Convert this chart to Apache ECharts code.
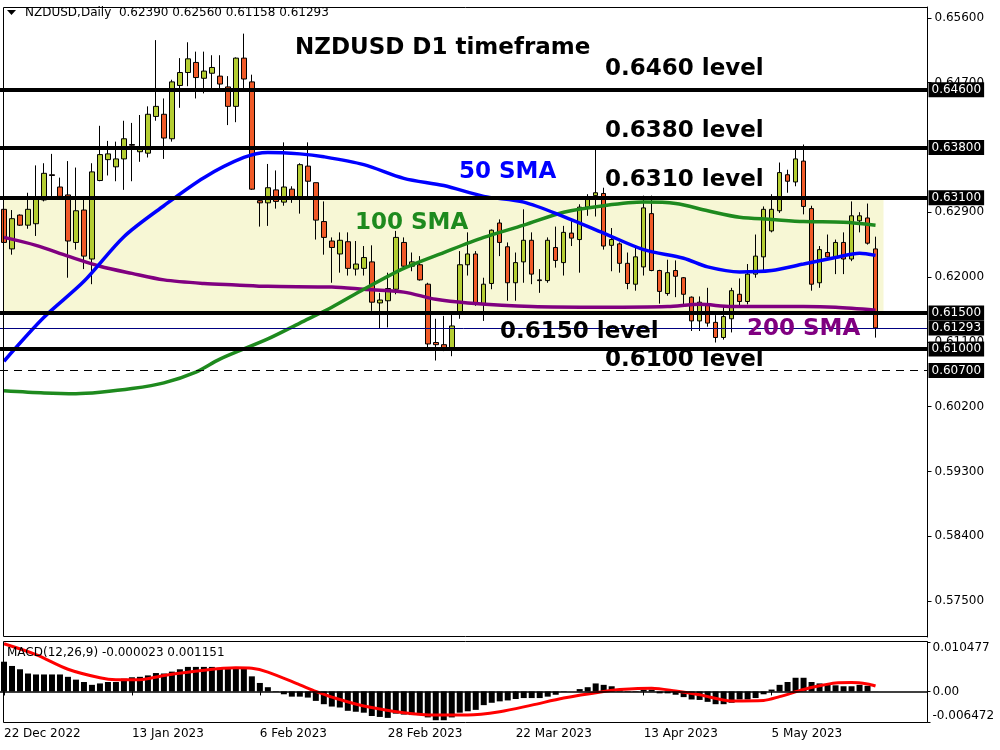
<!DOCTYPE html>
<html>
<head>
<meta charset="utf-8">
<title>NZDUSD D1 timeframe</title>
<script src="https://cdn.jsdelivr.net/npm/echarts@6.0.0/dist/echarts.min.js"></script>
<style>
  html, body { margin: 0; padding: 0; background: #fff; }
  #chart { width: 1000px; height: 750px; }
</style>
</head>
<body>
<div id="chart"></div>
<script>
// daily candles, each [open, close, low, high]
const ohlc = [
  [0.6294,0.6248,0.6229,0.6328],[0.6239,0.6281,0.6231,0.6293],[0.6286,0.6272,0.6271,0.6287],[0.6272,0.6294,0.6267,0.6317],
  [0.6274,0.6308,0.6257,0.6355],[0.6307,0.6344,0.6305,0.6358],[0.6342,0.6341,0.6312,0.6371],[0.6325,0.6312,0.6310,0.6338],
  [0.6314,0.6250,0.6199,0.6361],[0.6248,0.6292,0.6238,0.6352],[0.6293,0.6229,0.6211,0.6312],[0.6225,0.6346,0.6190,0.6358],
  [0.6334,0.6370,0.6333,0.6410],[0.6363,0.6371,0.6341,0.6389],[0.6353,0.6364,0.6333,0.6388],[0.6364,0.6392,0.6321,0.6417],
  [0.6384,0.6383,0.6333,0.6414],[0.6374,0.6379,0.6360,0.6425],[0.6372,0.6426,0.6366,0.6437],[0.6423,0.6437,0.6417,0.6529],
  [0.6426,0.6393,0.6364,0.6448],[0.6392,0.6471,0.6388,0.6474],[0.6466,0.6484,0.6435,0.6504],[0.6484,0.6503,0.6465,0.6526],
  [0.6498,0.6477,0.6448,0.6513],[0.6476,0.6486,0.6455,0.6513],[0.6483,0.6491,0.6462,0.6508],[0.6479,0.6468,0.6462,0.6508],
  [0.6464,0.6437,0.6411,0.6479],[0.6437,0.6504,0.6415,0.6505],[0.6504,0.6475,0.6458,0.6538],[0.6471,0.6322,0.6321,0.6481],
  [0.6306,0.6303,0.6270,0.6312],[0.6303,0.6324,0.6271,0.6357],[0.6321,0.6305,0.6295,0.6348],[0.6304,0.6325,0.6299,0.6387],
  [0.6322,0.6310,0.6303,0.6326],[0.6308,0.6356,0.6288,0.6358],[0.6354,0.6333,0.6308,0.6387],[0.6331,0.6279,0.6252,0.6331],
  [0.6277,0.6255,0.6231,0.6305],[0.6250,0.6241,0.6192,0.6255],[0.6232,0.6251,0.6206,0.6262],[0.6249,0.6212,0.6202,0.6262],
  [0.6211,0.6218,0.6202,0.6250],[0.6212,0.6227,0.6202,0.6243],[0.6221,0.6165,0.6153,0.6244],[0.6164,0.6168,0.6129,0.6178],
  [0.6167,0.6184,0.6130,0.6206],[0.6183,0.6255,0.6176,0.6264],[0.6248,0.6215,0.6211,0.6255],[0.6215,0.6221,0.6208,0.6234],
  [0.6217,0.6196,0.6195,0.6229],[0.6190,0.6107,0.6102,0.6192],[0.6109,0.6106,0.6084,0.6142],[0.6106,0.6102,0.6097,0.6146],
  [0.6102,0.6132,0.6090,0.6151],[0.6152,0.6217,0.6142,0.6236],[0.6217,0.6232,0.6202,0.6262],[0.6232,0.6163,0.6160,0.6236],
  [0.6163,0.6190,0.6139,0.6199],[0.6191,0.6265,0.6183,0.6266],[0.6275,0.6248,0.6229,0.6280],[0.6242,0.6192,0.6167,0.6248],
  [0.6192,0.6220,0.6167,0.6234],[0.6221,0.6251,0.6192,0.6294],[0.6251,0.6204,0.6190,0.6262],[0.6196,0.6195,0.6178,0.6211],
  [0.6195,0.6251,0.6192,0.6255],[0.6241,0.6223,0.6213,0.6270],[0.6220,0.6262,0.6202,0.6271],[0.6261,0.6254,0.6243,0.6280],
  [0.6252,0.6297,0.6206,0.6301],[0.6297,0.6309,0.6285,0.6315],[0.6313,0.6317,0.6284,0.6378],[0.6316,0.6243,0.6238,0.6324],
  [0.6244,0.6252,0.6208,0.6268],[0.6246,0.6219,0.6206,0.6248],[0.6219,0.6191,0.6183,0.6234],[0.6190,0.6228,0.6181,0.6241],
  [0.6214,0.6296,0.6202,0.6313],[0.6288,0.6209,0.6208,0.6313],[0.6209,0.6180,0.6163,0.6210],[0.6177,0.6206,0.6174,0.6224],
  [0.6209,0.6201,0.6172,0.6223],[0.6199,0.6176,0.6160,0.6200],[0.6172,0.6139,0.6125,0.6173],[0.6139,0.6165,0.6125,0.6173],
  [0.6163,0.6136,0.6131,0.6185],[0.6137,0.6116,0.6109,0.6147],[0.6116,0.6145,0.6113,0.6160],[0.6142,0.6181,0.6123,0.6185],
  [0.6176,0.6166,0.6160,0.6198],[0.6166,0.6204,0.6162,0.6218],[0.6204,0.6229,0.6199,0.6259],[0.6228,0.6294,0.6208,0.6298],
  [0.6264,0.6294,0.6262,0.6315],[0.6292,0.6345,0.6289,0.6359],[0.6342,0.6333,0.6317,0.6349],[0.6332,0.6364,0.6326,0.6377],
  [0.6361,0.6298,0.6287,0.6384],[0.6295,0.6190,0.6181,0.6299],[0.6192,0.6238,0.6185,0.6243],[0.6234,0.6228,0.6227,0.6259],
  [0.6228,0.6248,0.6204,0.6252],[0.6248,0.6225,0.6204,0.6262],[0.6225,0.6285,0.6222,0.6305],[0.6278,0.6285,0.6262,0.6290],
  [0.6282,0.6247,0.6245,0.6302],[0.62390,0.61293,0.61158,0.62560]
];

// moving averages, [bar index, value]
const sma50 = [[0,0.6083],[5,0.6144],[10,0.6194],[15,0.6256],[20,0.6299],[25,0.6338],[30,0.6366],[33,0.6373],[37,0.6371],
  [40,0.6367],[45,0.6356],[50,0.6337],[55,0.6327],[60,0.6312],[65,0.6304],[70,0.6284],[75,0.6261],[80,0.6238],[85,0.6226],
  [88,0.6214],[92,0.6207],[96,0.6209],[100,0.6218],[104,0.6227],[107,0.6233],[109,0.6230]];
const sma100 = [[0,0.6042],[5,0.6039],[9,0.6038],[12,0.6040],[16,0.6045],[20,0.6053],[24,0.6068],[27,0.6086],[33,0.6114],
  [37,0.6136],[41,0.6158],[45,0.6183],[50,0.6212],[55,0.6234],[60,0.6255],[65,0.6272],[70,0.6290],[75,0.6299],[80,0.6304],
  [84,0.6302],[88,0.6292],[92,0.6283],[96,0.6280],[100,0.6277],[105,0.6276],[109,0.6272]];
const sma200 = [[0,0.6255],[4,0.6244],[8,0.6229],[12,0.6215],[16,0.6205],[20,0.6196],[25,0.6191],[29,0.6189],[33,0.6187],
  [41,0.6186],[45,0.6183],[50,0.6179],[54,0.6169],[58,0.6164],[66,0.6159],[75,0.6158],[83,0.6159],[87,0.6162],[91,0.6159],
  [100,0.6159],[104,0.6158],[109,0.6154]];

// MACD(12,26,9): main as histogram, signal as line
const macdMain = [
  0.0063,0.0054,0.0047,0.0038,0.0036,0.0036,0.0036,0.0036,0.0031,0.0025,0.0020,0.0014,0.0017,0.0020,0.0020,0.0027,
  0.0030,0.0031,0.0034,0.0039,0.0038,0.0042,0.0047,0.0052,0.0052,0.0052,0.0052,0.0050,0.0048,0.0050,0.0050,0.0032,
  0.0018,0.0009,0.0001,-0.0006,-0.0011,-0.0011,-0.0013,-0.0020,-0.0027,-0.0032,-0.0034,-0.0041,-0.0043,-0.0045,-0.0052,-0.0054,
  -0.0056,-0.0047,-0.0049,-0.0050,-0.0050,-0.0055,-0.0061,-0.0061,-0.0055,-0.0045,-0.0042,-0.0039,-0.0029,-0.0024,-0.0021,-0.0019,
  -0.0016,-0.0014,-0.0014,-0.0014,-0.0011,-0.0007,-0.0001,0.0000,0.0005,0.0009,0.0017,0.0014,0.0011,0.0005,0.0001,0.0001,
  0.0004,0.0004,-0.0004,-0.0004,-0.0007,-0.0012,-0.0017,-0.0018,-0.0022,-0.0027,-0.0027,-0.0024,-0.0017,-0.0017,-0.0014,-0.0006,
  0.0004,0.0014,0.0020,0.0029,0.0029,0.0020,0.0017,0.0016,0.0013,0.0011,0.0011,0.0014,0.0012,-0.000023
];
const macdSignal = [[0,0.0101],[4,0.0078],[8,0.0047],[12,0.0029],[14,0.0025],[17,0.0025],[20,0.0034],[25,0.0045],[29,0.0050],
  [31,0.0049],[33,0.0041],[37,0.0014],[39,0.0000],[41,-0.0012],[45,-0.0031],[50,-0.0045],[54,-0.0050],[58,-0.0050],[62,-0.0043],
  [66,-0.0029],[70,-0.0014],[75,0.0000],[77,0.0004],[81,0.0007],[84,0.0001],[87,-0.0007],[91,-0.0020],[95,-0.0019],[97,-0.0011],
  [100,0.0004],[102,0.0012],[104,0.0018],[106,0.0019],[108,0.0016],[109,0.001151]];

// horizontal levels and the shaded zone
const levels = [0.6460, 0.6380, 0.6310, 0.6150, 0.6100];
const lastClose = 0.61293;
const dashedLevel = 0.6070;
const zone = [0.6150, 0.6310];
const zoneEnd = 110;

// axis labels
const priceTicks = [0.656, 0.647, 0.629, 0.620, 0.611, 0.602, 0.593, 0.584, 0.575];
const macdTicks = [-0.006472, 0, 0.010477];
const dateTicks = ['22 Dec 2022', '13 Jan 2023', '6 Feb 2023', '28 Feb 2023', '22 Mar 2023', '13 Apr 2023', '5 May 2023'];
const tickStep = 16;
const barSlots = 116;

const cats = Array.from({ length: barSlots }, (_, i) => i);
const FONT = '"DejaVu Sans", sans-serif';
const isDateTick = (i) => i % tickStep === 0 && i / tickStep < dateTicks.length;

const notes = [
  ['NZDUSD D1 timeframe', 295, 48, '#000'],
  ['0.6460 level', 605, 69, '#000'],
  ['0.6380 level', 605, 131, '#000'],
  ['50 SMA', 459, 172, '#0000ff'],
  ['0.6310 level', 605, 180, '#000'],
  ['100 SMA', 355, 223, '#1e8a1e'],
  ['0.6150 level', 500, 332, '#000'],
  ['200 SMA', 747, 329, '#800080'],
  ['0.6100 level', 605, 360, '#000']
];

const chart = echarts.init(document.getElementById('chart'));

const graphic = [
  { type: 'rect', silent: true, z: 100, shape: { x: 3.5, y: 7.5, width: 924, height: 629 }, style: { fill: 'none', stroke: '#000', lineWidth: 1 } },
  { type: 'rect', silent: true, z: 100, shape: { x: 3.5, y: 641.5, width: 924, height: 81 }, style: { fill: 'none', stroke: '#000', lineWidth: 1 } },
  { type: 'polygon', silent: true, z: 100, shape: { points: [[7, 10], [16, 10], [11.5, 15]] }, style: { fill: '#000' } },
  { type: 'text', silent: true, z: 100, x: 25, y: 13, style: { text: 'NZDUSD,Daily  0.62390 0.62560 0.61158 0.61293', font: '12px ' + FONT, fill: '#000', align: 'left', verticalAlign: 'middle', textAlign: 'left', textVerticalAlign: 'middle' } },
  { type: 'text', silent: true, z: 100, x: 7, y: 653, style: { text: 'MACD(12,26,9) -0.000023 0.001151', font: '12px ' + FONT, fill: '#000', align: 'left', verticalAlign: 'middle', textAlign: 'left', textVerticalAlign: 'middle' } }
];
notes.forEach(([t, x, y, c]) => {
  graphic.push({ type: 'text', silent: true, z: 100, x: x, y: y,
    style: { text: t, font: 'bold 23px ' + FONT, fill: c, align: 'left', verticalAlign: 'middle', textAlign: 'left', textVerticalAlign: 'middle' } });
});

const option = {
  animation: false,
  backgroundColor: '#fff',
  textStyle: { fontFamily: FONT },
  grid: [
    { left: -0.5, width: 928, top: 7, height: 630 },
    { left: -0.5, width: 928, top: 642, height: 80 }
  ],
  xAxis: [
    { type: 'category', gridIndex: 0, data: cats, boundaryGap: true, show: false },
    {
      type: 'category', gridIndex: 1, data: cats, boundaryGap: true,
      axisLine: { show: false },
      axisTick: { show: true, length: 4, alignWithLabel: true, interval: (i) => isDateTick(i), lineStyle: { color: '#000' } },
      axisLabel: { interval: (i) => isDateTick(i), align: 'left', margin: 6, color: '#000', fontSize: 12, fontFamily: FONT,
        formatter: (v, i) => (isDateTick(i) ? dateTicks[i / tickStep] : '') },
      splitLine: { show: false }
    }
  ],
  yAxis: [
    {
      type: 'value', gridIndex: 0, position: 'right', min: 0.5700, max: 0.6575, scale: true,
      axisLine: { show: true, lineStyle: { color: '#000' } },
      axisTick: { show: true, length: 4, customValues: priceTicks, lineStyle: { color: '#000' } },
      axisLabel: { customValues: priceTicks, margin: 7, color: '#000', fontSize: 12, fontFamily: FONT, formatter: (v) => v.toFixed(5) },
      splitLine: { show: false }
    },
    {
      type: 'value', gridIndex: 1, position: 'right', min: -0.006472, max: 0.010477,
      axisLine: { show: true, lineStyle: { color: '#000' } },
      axisTick: { show: true, length: 3, customValues: macdTicks, lineStyle: { color: '#000' } },
      axisLabel: { customValues: macdTicks, margin: 5, color: '#000', fontSize: 12, fontFamily: FONT,
        verticalAlignMaxLabel: 'top', verticalAlignMinLabel: 'bottom',
        formatter: (v) => (v === 0 ? '0.00' : v.toFixed(6)) },
      splitLine: { show: false }
    }
  ],
  series: [
    {
      // shaded range between 0.6150 and 0.6310
      type: 'line', xAxisIndex: 0, yAxisIndex: 0, data: [], z: 1, silent: true,
      markArea: { silent: true, itemStyle: { color: '#f7f7d5' },
        data: [[{ xAxis: 0, yAxis: zone[1] }, { xAxis: zoneEnd, yAxis: zone[0] }]] }
    },
    {
      type: 'candlestick', xAxisIndex: 0, yAxisIndex: 0, data: ohlc, barWidth: 5, z: 2,
      itemStyle: { color: '#b4cd32', color0: '#f05a28', borderColor: '#000', borderColor0: '#000', borderWidth: 1 }
    },
    { type: 'line', name: '200 SMA', xAxisIndex: 0, yAxisIndex: 0, data: sma200, symbol: 'none', smooth: 0.3, z: 3,
      lineStyle: { color: '#800080', width: 3.5 } },
    { type: 'line', name: '100 SMA', xAxisIndex: 0, yAxisIndex: 0, data: sma100, symbol: 'none', smooth: 0.3, z: 3,
      lineStyle: { color: '#1e8a1e', width: 3.5 } },
    { type: 'line', name: '50 SMA', xAxisIndex: 0, yAxisIndex: 0, data: sma50, symbol: 'none', smooth: 0.3, z: 3,
      lineStyle: { color: '#0000ff', width: 3.5 } },
    {
      // level lines with the boxed price tags on the axis
      type: 'line', xAxisIndex: 0, yAxisIndex: 0, data: [], z: 5, silent: true,
      markLine: {
        silent: true, symbol: 'none', precision: 5,
        label: { position: 'end', distance: 1, color: '#fff', backgroundColor: '#000', padding: [2, 3, 1, 3],
          fontSize: 12, fontFamily: FONT, formatter: (p) => Number(p.value).toFixed(5) },
        data: levels.map((v) => ({ yAxis: v, lineStyle: { color: '#000', width: 4, type: 'solid' } }))
          .concat([
            { yAxis: lastClose, lineStyle: { color: '#000080', width: 1, type: 'solid' } },
            { yAxis: dashedLevel, lineStyle: { color: '#000', width: 1, type: [8, 6] } }
          ])
      }
    },
    {
      type: 'bar', xAxisIndex: 1, yAxisIndex: 1, data: macdMain, barWidth: 6, z: 2,
      itemStyle: { color: '#000' },
      markLine: { silent: true, symbol: 'none', label: { show: false },
        data: [{ yAxis: 0 }], lineStyle: { color: '#000', width: 1.5, type: 'solid' } }
    },
    { type: 'line', xAxisIndex: 1, yAxisIndex: 1, data: macdSignal, symbol: 'none', smooth: 0.3, z: 3,
      lineStyle: { color: '#ff0000', width: 3 } }
  ],
  graphic: graphic
};

chart.setOption(option);
</script>
</body>
</html>
